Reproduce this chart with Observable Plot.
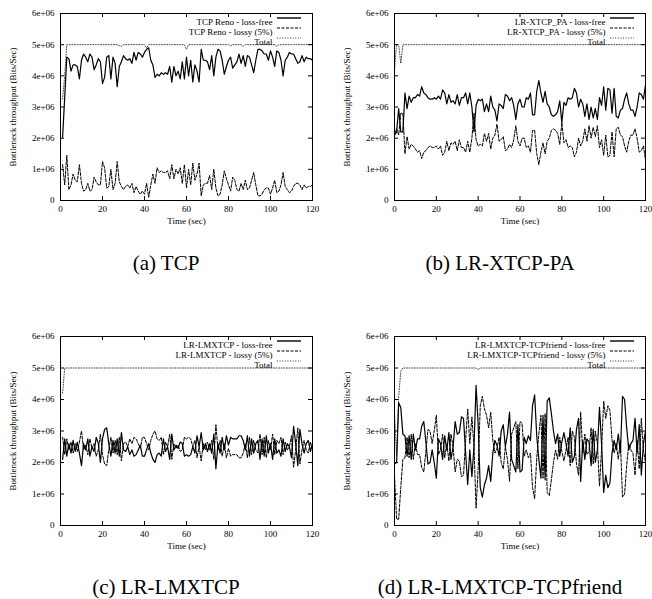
<!DOCTYPE html>
<html><head><meta charset="utf-8">
<script src="https://cdn.jsdelivr.net/npm/d3@7"></script>
<script src="https://cdn.jsdelivr.net/npm/@observablehq/plot@0.6"></script>
<style>
body{margin:0;background:#fff;}
#fig{position:relative;width:652px;height:599px;overflow:hidden;background:#fff;font-family:"Liberation Serif","Times New Roman",serif;}
.panel{position:absolute;}
.cap{position:absolute;width:300px;text-align:center;font-size:21px;line-height:24px;color:#000;white-space:nowrap;}
</style></head><body><div id="fig"></div>
<script>
// time in seconds
const seconds = [0,1,2,3,4,5,6,7,8,9,10,11,12,13,14,15,16,17,18,19,20,21,22,23,24,25,26,27,28,29,30,31,32,33,34,35,36,37,38,39,40,41,42,43,44,45,46,47,48,49,50,51,52,53,54,55,56,57,58,59,60,61,62,63,64,65,66,67,68,69,70,71,72,73,74,75,76,77,78,79,80,81,82,83,84,85,86,87,88,89,90,91,92,93,94,95,96,97,98,99,100,101,102,103,104,105,106,107,108,109,110,111,112,113,114,115,116,117,118,119,120];
const xTicks = [0,20,40,60,80,100,120];
const yTicks = [0,1,2,3,4,5,6]; // units of 1e+06 bits/sec
const yTitle = "Bottleneck throughput (Bits/Sec)";
const xTitle = "Time (sec)";

// (a) TCP  (values in 1e+06 bits/sec)
const tcpLossFree = [null,2.03,3.3,4.6,4.55,4.15,4.35,4.35,4.3,3.9,4.5,4.7,4.6,4.45,4.7,4.6,4.2,4.35,4.55,4.45,3.75,3.95,4.6,4.65,3.9,4.6,4.4,3.65,4.3,4.45,4.65,4.55,4.5,4.55,4.4,4.75,4.5,4.75,4.7,4.6,4.75,4.85,4.9,4.5,4.35,3.95,4.05,4.0,4.1,4.05,4.1,4.05,4.3,3.8,4.3,4.0,4.15,3.9,4.45,3.9,4.6,4.0,4.5,3.8,4.35,4.15,3.8,4.85,4.5,4.5,4.45,4.2,4.65,4.0,4.6,4.85,4.8,4.5,4.05,4.3,4.5,4.6,4.25,4.35,4.45,4.7,4.4,4.65,4.3,4.65,4.6,4.35,4.1,4.5,4.85,4.85,4.8,4.7,4.7,4.5,4.8,4.6,4.3,4.8,4.75,4.5,4.0,4.5,4.6,4.75,4.7,4.7,4.55,4.4,4.45,4.65,4.45,4.6,4.55,4.55,4.5];
const tcpLossy = [null,1.15,0.5,1.45,0.35,0.5,0.85,0.65,0.6,1.15,0.55,0.3,0.35,0.55,0.3,0.35,0.75,0.6,0.5,0.5,1.25,1.05,0.4,0.45,1.0,0.35,0.55,1.25,0.6,0.45,0.35,0.45,0.5,0.4,0.55,0.25,0.45,0.3,0.2,0.3,0.2,0.55,0.1,0.5,0.85,0.55,1.05,0.9,0.95,0.9,0.9,0.95,0.7,1.15,0.7,1.0,0.85,1.05,0.55,1.15,0.4,1.0,0.5,1.2,0.65,0.85,1.2,0.15,0.5,0.55,0.55,0.8,0.35,1.0,0.4,0.15,0.2,0.5,0.95,0.7,0.5,0.3,0.75,0.65,0.35,0.3,0.55,0.35,0.65,0.35,0.4,0.65,0.9,0.5,0.15,0.15,0.2,0.35,0.4,0.4,0.2,0.4,0.65,0.25,0.3,0.5,0.9,0.45,0.35,0.25,0.3,0.45,0.55,0.55,0.5,0.35,0.5,0.4,0.45,0.45,0.5];
const tcpTotal = [null,3.25,4.0,5,5,5,5,5,5,5,5,5,5,5,5,5,5,5,5,5,5,5,5,5,5,5,5,5,4.97,4.95,5,5,5,5,5,5,5,5,5,5,5,4.9,5,5,5,5,5,5,5,5,5,5,5,5,5,5,5,5,5,5,4.85,5,5,5,5,5,5,5,5,5,5,5,5,5,5,5,5,5,5,5,5,4.97,5,5,5,5,5,4.95,5,5,5,5,5,5,5,5,5,5,5,5,5,5,5,4.95,5,5,5,5,5,5,5,5,5,5,5,5,5,5,5,5,5];

// (b) LR-XTCP-PA
const paLossFree = [2.1,2.2,2.95,2.2,2.2,3.45,2.95,3.35,3.15,3.3,3.3,3.4,3.35,3.65,3.45,3.4,3.3,3.25,3.25,3.3,3.25,3.35,3.25,3.55,3.45,3.1,3.4,3.15,3.2,3.1,3.4,3.05,3.3,3.3,3.45,3.1,3.45,3.0,2.2,3.05,3.25,3.2,3.25,2.85,3.1,2.85,3.35,3.0,2.9,2.55,3.1,3.05,2.95,3.4,3.35,3.2,3.3,3.05,2.6,3.1,3.25,3.0,3.0,3.3,3.25,3.45,2.75,2.75,3.5,3.85,3.45,3.15,3.5,3.1,3.0,2.75,2.7,2.75,2.85,3.2,2.5,3.15,3.05,3.3,3.25,3.3,3.6,3.45,3.0,3.25,3.1,2.7,3.1,2.6,3.0,2.65,2.95,2.6,3.3,3.05,3.65,2.9,3.6,3.55,2.8,3.6,2.7,2.65,2.9,2.95,3.25,3.45,3.1,2.9,2.9,2.7,3.0,3.45,3.4,3.25,3.7];
const paLossy = [2.15,2.3,2.1,2.8,2.8,1.5,2.05,1.65,1.8,1.75,1.65,1.55,1.6,1.35,1.55,1.6,1.7,1.75,1.7,1.7,1.75,1.65,1.75,1.45,1.55,1.9,1.6,1.85,1.8,1.9,1.6,1.95,1.7,1.7,1.55,1.9,1.55,2.0,2.8,1.95,1.75,1.8,1.75,2.15,1.9,2.15,1.65,2.0,2.1,2.45,1.9,1.95,2.05,1.6,1.65,1.8,1.7,1.95,2.4,1.9,1.75,2.0,2.0,1.7,1.75,1.55,2.25,2.25,1.5,1.15,1.55,1.85,1.5,1.9,2.0,2.25,2.3,2.25,2.15,1.8,2.5,1.85,1.95,1.7,1.75,1.7,1.4,1.55,2.0,1.75,1.9,2.3,1.9,2.4,2.0,2.35,2.05,2.4,1.7,1.95,1.45,2.1,1.4,1.45,2.2,1.4,2.3,2.35,2.1,2.05,1.75,1.55,1.9,2.1,2.1,2.3,2.0,1.55,1.6,1.75,1.3];
const paTotal = [4.2,5,5,4.4,5,5,5,5,5,5,5,5,5,5,5,5,5,5,5,5,5,5,5,5,5,5,5,5,5,5,5,5,5,5,5,5,5,5,5,5,5,5,5,5,5,5,5,5,5,5,5,5,5,5,5,5,5,5,5,5,5,5,5,5,5,5,5,5,5,5,5,5,5,5,5,5,5,5,5,5,5,5,5,5,5,5,5,5,5,5,5,5,5,5,5,5,5,5,5,5,5,5,5,5,5,5,5,5,5,5,5,5,5,5,5,5,5,5,5,5,5];

// (c) LR-LMXTCP
const lmLossFree = [null,2.1,2.75,2.2,2.6,2.3,2.7,2.35,2.65,2.3,1.9,2.6,2.4,2.75,2.2,2.5,2.35,2.8,2.6,2.0,2.75,3.05,3.1,2.6,2.2,2.7,2.3,2.75,2.2,2.95,2.4,2.35,2.5,2.25,2.4,2.2,2.25,2.4,2.55,2.2,2.2,2.4,2.6,2.3,2.1,2.0,2.25,2.3,2.2,2.75,2.35,2.5,2.1,2.9,2.4,2.55,2.45,2.65,2.6,2.2,2.25,2.2,2.25,2.5,2.3,2.85,2.5,2.95,2.4,2.6,2.35,2.6,2.3,2.9,1.8,2.6,2.3,2.8,2.4,2.85,2.55,2.8,2.75,2.75,2.75,2.85,2.85,2.7,2.4,2.85,2.2,2.75,2.3,2.6,2.7,2.1,2.75,2.2,2.85,2.3,2.6,2.1,2.75,2.3,2.4,2.2,2.75,2.35,2.6,2.5,2.15,3.15,2.6,1.9,3.05,2.6,2.3,2.6,2.7,2.35,2.6];
const lmLossy = [null,2.8,2.25,2.75,2.4,2.65,2.3,2.6,2.35,2.65,3.0,2.4,2.55,2.25,2.75,2.45,2.6,2.2,2.4,2.9,2.25,1.95,1.9,2.4,2.8,2.3,2.7,2.25,2.8,2.05,2.6,2.65,2.5,2.75,2.6,2.8,2.75,2.6,2.45,2.8,2.8,2.6,2.4,2.7,2.9,3.0,2.75,2.7,2.8,2.25,2.65,2.5,2.9,2.1,2.6,2.45,2.55,2.35,2.4,2.8,2.75,2.8,2.75,2.5,2.7,2.15,2.5,2.05,2.6,2.4,2.65,2.4,2.7,2.1,3.2,2.4,2.7,2.2,2.6,2.15,2.45,2.2,2.25,2.25,2.25,2.15,2.15,2.3,2.6,2.15,2.8,2.25,2.7,2.4,2.3,2.9,2.25,2.8,2.15,2.7,2.4,2.9,2.25,2.7,2.6,2.8,2.25,2.65,2.4,2.5,2.85,1.85,2.4,3.1,1.95,2.4,2.7,2.4,2.3,2.65,2.4];
const lmTotal = [null,4.2,5,5,5,5,5,5,5,5,5,5,5,5,5,5,5,5,5,5,5,5,5,5,5,5,5,5,5,5,5,5,5,5,5,5,5,5,5,5,5,5,5,5,5,5,5,5,5,5,5,5,5,5,5,5,5,5,5,5,5,5,5,5,5,5,5,5,5,5,5,5,5,5,5,5,5,5,5,5,5,5,5,5,5,5,5,5,5,5,5,5,5,5,5,5,5,5,5,5,5,5,5,5,5,5,5,5,5,5,5,5,5,5,5,5,5,5,5,5,5];

// (d) LR-LMXTCP-TCPfriend
const tfLossFree = [1.95,2.0,3.9,3.75,2.9,2.85,2.2,2.85,2.1,2.9,2.4,2.75,2.75,3.15,3.3,2.65,1.95,2.0,2.4,2.0,1.5,2.75,2.6,2.1,2.85,2.4,2.95,2.1,2.5,3.3,2.9,2.95,3.45,3.4,2.3,1.3,2.4,1.55,2.5,4.45,3.2,1.2,0.9,1.3,1.5,1.9,1.4,2.3,2.7,2.55,2.2,3.0,3.2,2.5,2.9,3.6,2.1,1.9,1.7,3.2,1.7,1.75,2.8,2.6,2.85,2.7,3.8,4.15,2.85,2.1,1.5,3.5,1.45,3.95,4.05,3.55,3.0,2.6,2.9,2.2,2.65,2.95,2.6,2.2,3.1,2.0,2.2,3.05,3.4,1.4,2.7,2.1,2.75,2.65,1.9,3.05,2.0,2.4,3.75,2.6,1.05,1.6,1.2,1.35,2.3,2.7,2.4,2.9,2.3,4.1,4.0,3.1,2.4,2.6,2.7,3.4,2.3,3.2,1.6,2.6,3.0];
const tfLossy = [1.6,0.2,0.2,1.2,2.1,2.15,2.8,2.15,2.9,2.1,2.6,2.25,2.25,1.85,1.7,2.35,3.05,3.0,2.6,3.0,3.5,2.25,2.4,2.9,2.15,2.6,2.05,2.9,2.5,1.7,2.1,2.05,1.55,1.6,2.7,3.7,2.6,3.45,2.5,0.55,1.8,3.8,4.1,3.7,3.5,3.1,3.6,2.7,2.3,2.45,2.8,2.0,1.8,2.5,2.1,1.4,2.9,3.1,3.3,1.8,3.3,3.25,2.2,2.4,2.15,2.3,1.2,0.85,2.15,2.9,3.5,1.5,3.55,1.05,0.95,1.45,2.0,2.4,2.1,2.8,2.35,2.05,2.4,2.8,1.9,3.0,2.8,1.95,1.6,3.6,2.3,2.9,2.25,2.35,3.1,1.95,3.0,2.6,1.25,2.4,3.95,3.4,3.8,3.65,2.7,2.3,2.6,2.1,2.7,0.9,1.0,1.9,2.6,2.4,2.3,1.6,2.7,1.8,3.4,2.4,2.0];
const tfTotal = [3.55,2.2,4.1,4.9,5,5,5,5,5,5,5,5,5,5,5,5,5,5,5,5,5,5,5,5,5,5,5,5,5,5,5,5,5,5,5,5,5,5,5,5,4.95,5,5,5,5,5,5,5,5,5,5,5,5,5,5,5,5,5,5,5,5,5,5,5,5,5,5,5,5,5,5,5,5,5,5,5,5,5,5,5,5,5,5,5,5,5,5,5,5,5,5,5,5,5,5,5,5,5,5,5,5,5,5,5,5,5,5,5,5,5,5,5,5,5,5,5,5,5,5,5,5];

const panels = [
  {name:"TCP Reno", cap:"(a) TCP", lf:tcpLossFree, ls:tcpLossy, tot:tcpTotal, left:0, top:0, h:240, ml:60, mr:14, capX:166, capY:263},
  {name:"LR-XTCP_PA", cap:"(b) LR-XTCP-PA", lf:paLossFree, ls:paLossy, tot:paTotal, left:326, top:0, h:240, ml:68, mr:7, capX:500, capY:263},
  {name:"LR-LMXTCP", cap:"(c) LR-LMXTCP", lf:lmLossFree, ls:lmLossy, tot:lmTotal, left:0, top:323, h:242, ml:60, mr:14, capX:166, capY:587},
  {name:"LR-LMXTCP-TCPfriend", cap:"(d) LR-LMXTCP-TCPfriend", lf:tfLossFree, ls:tfLossy, tot:tfTotal, left:326, top:323, h:242, ml:68, mr:7, capX:500, capY:587}
];

const styles = {
  lf: {stroke:"#000", strokeWidth:1.2, dash:null},
  ls: {stroke:"#000", strokeWidth:1.0, dash:"3,1.5"},
  tot:{stroke:"#333", strokeWidth:0.9, dash:"1,1.6"}
};

const rows = arr => seconds.map((t,i) => ({t, v: arr[i]})).filter(d => d.v != null);
const yFmt = d => d === 0 ? "0" : d + "e+06";
const fig = document.getElementById("fig");
const W = 326, MT = 13, MB = 40;
const FF = "Liberation Serif, Times New Roman, serif";

for (const p of panels) {
  const fw = W - p.ml - p.mr, fh = p.h - MT - MB;
  const font = {fontSize: 9, fontFamily: FF, fill: "#000"};
  const legend = [
    [p.name + " - loss-free", "lf"],
    [p.name + " - lossy (5%)", "ls"],
    ["Total", "tot"]
  ];
  const legendDy = [5, 15, 25];
  const chart = Plot.plot({
    width: W, height: p.h,
    marginTop: MT, marginBottom: MB, marginLeft: p.ml, marginRight: p.mr,
    x: {domain: [0, 120]},
    y: {domain: [0, 6]},
    style: {fontFamily: FF, fontSize: "9px", background: "white", color: "#000", overflow: "visible"},
    marks: [
      Plot.line(rows(p.tot), {x: "t", y: "v", stroke: styles.tot.stroke, strokeWidth: styles.tot.strokeWidth, strokeDasharray: styles.tot.dash}),
      Plot.line(rows(p.ls), {x: "t", y: "v", stroke: styles.ls.stroke, strokeWidth: styles.ls.strokeWidth, strokeDasharray: styles.ls.dash}),
      Plot.line(rows(p.lf), {x: "t", y: "v", stroke: styles.lf.stroke, strokeWidth: styles.lf.strokeWidth}),
      Plot.frame({stroke: "#000", strokeWidth: 1}),
      // inward ticks on all four sides
      Plot.ruleX(xTicks, {x: d => d, stroke: "#000", insetTop: fh - 4}),
      Plot.ruleX(xTicks, {x: d => d, stroke: "#000", insetBottom: fh - 4}),
      Plot.ruleY(yTicks, {y: d => d, stroke: "#000", insetRight: fw - 4}),
      Plot.ruleY(yTicks, {y: d => d, stroke: "#000", insetLeft: fw - 4}),
      Plot.axisX(xTicks, {tickSize: 0, tickPadding: 5, label: null, tickFormat: d => d}),
      Plot.axisY(yTicks, {tickSize: 0, tickPadding: 6, label: null, tickFormat: yFmt}),
      Plot.text([xTitle], {text: d => d, frameAnchor: "bottom", dy: 23, ...font}),
      Plot.text([yTitle], {text: d => d, frameAnchor: "left", textAnchor: "middle", dx: -47, rotate: -90, ...font}),
      ...legend.map(([label], i) => Plot.text([label], {text: d => d, frameAnchor: "top-right", dx: -40, dy: legendDy[i], textAnchor: "end", ...font}))
    ]
  });
  // legend line samples
  const svg = d3.select(chart);
  const right = W - p.mr;
  legend.forEach(([label, key], i) => {
    const s = styles[key];
    svg.append("line")
      .attr("x1", right - 35).attr("x2", right - 11)
      .attr("y1", MT + legendDy[i]).attr("y2", MT + legendDy[i])
      .attr("stroke", s.stroke).attr("stroke-width", s.strokeWidth + 0.2)
      .attr("stroke-dasharray", s.dash);
  });
  chart.classList.add("panel");
  chart.style.left = p.left + "px";
  chart.style.top = p.top + "px";
  fig.appendChild(chart);
  const cap = document.createElement("div");
  cap.className = "cap";
  cap.textContent = p.cap;
  cap.style.left = (p.capX - 150) + "px";
  cap.style.top = (p.capY - 12) + "px";
  fig.appendChild(cap);
}
</script>
</body></html>
